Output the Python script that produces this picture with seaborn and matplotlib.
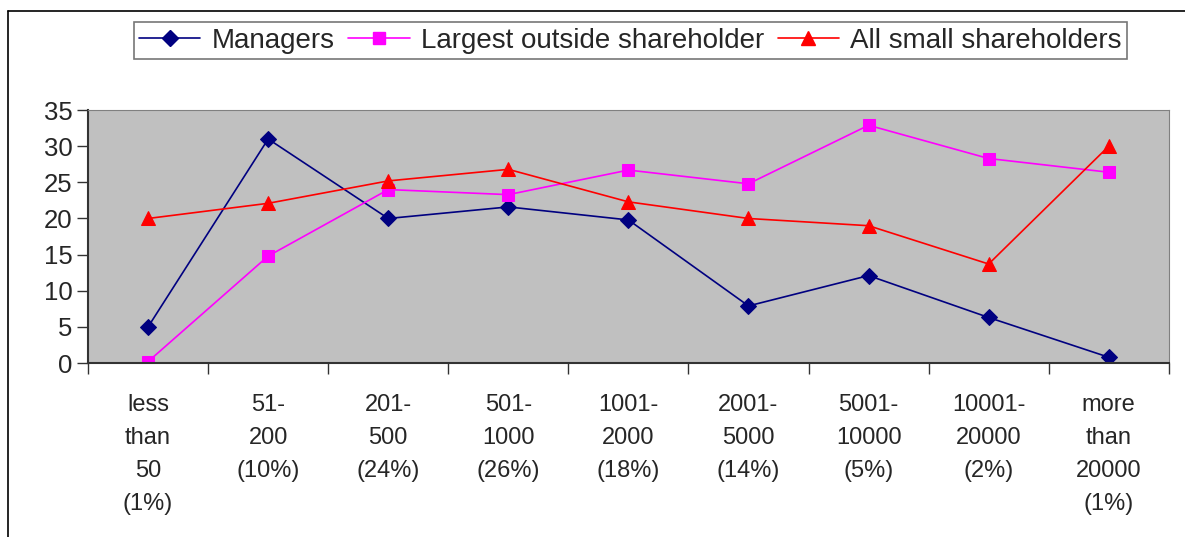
import pandas as pd
import matplotlib.pyplot as plt
import seaborn as sns
from matplotlib.lines import Line2D

categories = ['less\nthan\n50\n(1%)', '51-\n200\n(10%)', '201-\n500\n(24%)',
              '501-\n1000\n(26%)', '1001-\n2000\n(18%)', '2001-\n5000\n(14%)',
              '5001-\n10000\n(5%)', '10001-\n20000\n(2%)', 'more\nthan\n20000\n(1%)']
managers = [5.0, 31.0, 20.0, 21.6, 19.8, 7.9, 12.1, 6.3, 0.8]
largest_outside = [0.2, 14.8, 24.0, 23.3, 26.7, 24.8, 32.9, 28.3, 26.4]
small_holders = [20.0, 22.1, 25.2, 26.8, 22.3, 20.0, 19.0, 13.7, 30.0]

series = {
    'Managers': managers,
    'Largest outside shareholder': largest_outside,
    'All small shareholders': small_holders,
}
rows = []
for name, vals in series.items():
    for i, v in enumerate(vals):
        rows.append({'pos': i, 'value': v, 'series': name})
df = pd.DataFrame(rows)

sns.set_style('white')
plt.rcParams['font.family'] = ['Liberation Sans', 'DejaVu Sans']

palette = {'Managers': '#000080', 'Largest outside shareholder': '#FF00FF',
           'All small shareholders': '#FF0000'}
markers = {'Managers': 'D', 'Largest outside shareholder': 's',
           'All small shareholders': '^'}
msizes = {'Managers': 8, 'Largest outside shareholder': 8, 'All small shareholders': 10}

fig = plt.figure(figsize=(11.85, 5.37), dpi=100)
ax = fig.add_axes([0.0743, 0.324, 0.912, 0.471])
ax.set_facecolor('#C0C0C0')

for name in series:
    sub = df[df['series'] == name]
    sns.lineplot(data=sub, x='pos', y='value', ax=ax, color=palette[name],
                 marker=markers[name], markersize=msizes[name],
                 markeredgecolor=palette[name], linewidth=1.2, label=name)

ax.set_xlim(-0.5, len(categories) - 0.5)
ax.set_ylim(0, 35)
ax.set_yticks(range(0, 36, 5))
ax.tick_params(axis='y', labelsize=18.5, length=8, width=1, color='#333333',
               direction='out', left=True, pad=3)
ax.set_xticks([i - 0.5 for i in range(len(categories) + 1)])
ax.set_xticklabels([])
ax.tick_params(axis='x', length=8, width=1, color='#333333', direction='out', bottom=True)
ax.set_xticks(range(len(categories)), minor=True)
ax.set_xticklabels(categories, minor=True, fontsize=17, linespacing=1.65)
ax.tick_params(axis='x', which='minor', length=0, pad=22)
ax.set_xlabel('')
ax.set_ylabel('')

for side in ['top', 'right']:
    ax.spines[side].set_color('#808080')
for side in ['left', 'bottom']:
    ax.spines[side].set_color('#333333')
    ax.spines[side].set_linewidth(1.5)

ax.legend_.remove()
handles = [Line2D([0], [0], color=palette[n], marker=markers[n], markersize=msizes[n],
                  linewidth=1.2) for n in series]
leg = fig.legend(handles, list(series.keys()), loc='center', ncol=3,
                 bbox_to_anchor=(0.532, 0.924), fontsize=20, frameon=True,
                 fancybox=False, edgecolor='#555555', handlelength=2.2,
                 handletextpad=0.4, columnspacing=0.5, borderpad=0.2)
leg.get_frame().set_linewidth(1.2)

# chart outer border
fig.add_artist(Line2D([0.0068, 0.0068], [0, 0.9795], color='black', linewidth=1.2))
fig.add_artist(Line2D([0.0068, 1], [0.9795, 0.9795], color='black', linewidth=1.2))

fig.savefig('out.png', dpi=100)
